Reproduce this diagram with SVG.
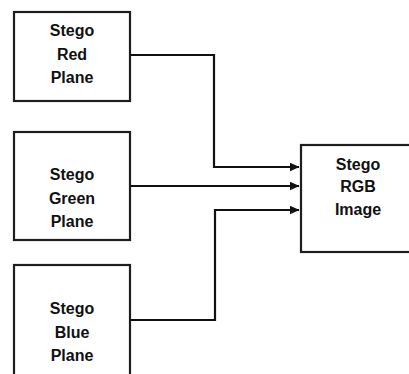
<svg xmlns="http://www.w3.org/2000/svg" width="409" height="374" viewBox="0 0 409 374">
<defs>
<style>
.box{fill:#fff;stroke:#1e1e1e;stroke-width:2.2}
.t{font-family:"Liberation Sans",Arial,sans-serif;font-weight:bold;font-size:16px;fill:#111;text-anchor:middle}
.c{fill:none;stroke:#111;stroke-width:2.2}
</style>
<marker id="ah" markerWidth="11" markerHeight="10" refX="9.5" refY="4.5" orient="auto" markerUnits="userSpaceOnUse">
<path d="M0,0 L10,4.5 L0,9 Z" fill="#111"/>
</marker>
</defs>
<rect width="409" height="374" fill="#fff"/>
<g id="red">
<rect class="box" x="14" y="12" width="116" height="89"/>
<text class="t" x="72" y="36">Stego</text>
<text class="t" x="72" y="59.5">Red</text>
<text class="t" x="72" y="83">Plane</text>
</g>
<g id="green">
<rect class="box" x="14" y="132" width="116" height="108"/>
<text class="t" x="72" y="180">Stego</text>
<text class="t" x="72" y="203.5">Green</text>
<text class="t" x="72" y="227">Plane</text>
</g>
<g id="blue">
<rect class="box" x="14" y="265" width="116" height="120"/>
<text class="t" x="72" y="314">Stego</text>
<text class="t" x="72" y="337.5">Blue</text>
<text class="t" x="72" y="361">Plane</text>
</g>
<g id="rgb">
<rect class="box" x="301" y="145" width="120" height="107"/>
<text class="t" x="358" y="169.5">Stego</text>
<text class="t" x="358" y="192">RGB</text>
<text class="t" x="358" y="215">Image</text>
</g>
<g id="connectors">
<path class="c" d="M130,55 H214 V167 H299" marker-end="url(#ah)"/>
<path class="c" d="M130,186 H299" marker-end="url(#ah)"/>
<path class="c" d="M130,320 H215 V210 H299" marker-end="url(#ah)"/>
</g>
</svg>
